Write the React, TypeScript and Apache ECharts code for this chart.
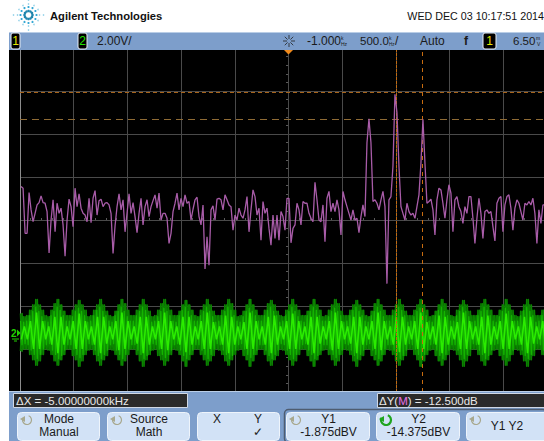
import React, { useEffect, useRef } from "react";
import * as echarts from "echarts";

const FONT = "'Liberation Sans', Arial, sans-serif";

// Math trace, dB relative to the top of the screen, sampled along the sweep
const traceDb = [
-64.4,-65.2,-86.2,-86.2,-67.2,-75.3,-80.8,-76.9,-73,-71.9,-68.8,-71.9,-72.2,-76.1,-95.3,-80,-70.6,-85.5,-72.2,-76.9,
-74.5,-82.3,-96.8,-80,-70.3,-73.8,-83.1,-65.2,-73.8,-67.8,-74.5,-76.9,-77.7,-80.8,-69.9,-81.2,-69.9,-66.3,-77.7,-71,
-70.3,-73.8,-72.2,-71.9,-73,-76.9,-95.6,-82.8,-73.8,-67.8,-75.3,-70.6,-85.5,-76.9,-67.8,-76.9,-71.9,-78.4,-85.9,-76.9,
-69.9,-82.3,-73.8,-70.6,-78.4,-73.8,-71,-68.3,-74.5,-67.5,-80,-76.9,-76.9,-79.2,-90.9,-86.2,-76.1,-72.2,-67.5,-75.3,
-69.9,-73.8,-68.3,-72.2,-71.4,-80,-75,-70.6,-69.4,-78.4,-82.3,-73,-102.8,-87.8,-101,-75.3,-73.4,-80,-70.3,-69.9,
-70.6,-75.3,-68.3,-70.6,-73,-73.8,-84.7,-77.7,-80,-74.5,-77.7,-79.2,-75.3,-69.1,-85.5,-75.3,-66,-69.1,-77.7,-74.5,
-89.4,-71.4,-76.9,-74.5,-83.9,-91.7,-77.7,-88.6,-77.7,-89.4,-76.1,-78.4,-84.7,-69.9,-69.9,-90.6,-83.9,-82.3,-72.2,-75.3,
-82.3,-71.4,-72.2,-72.2,-76.9,-79.2,-80.8,-62.5,-70.6,-80,-80.8,-73,-90.1,-69.9,-66.7,-76.1,-72.2,-76.1,-70.6,-75.3,
-87,-66.7,-70.6,-73.8,-76.9,-80,-75.3,-80,-79.2,-85.9,-78.4,-73,-78.4,-44.1,-32.9,-44.1,-71.4,-70.6,-72.2,-75.3,
-70.6,-66.7,-73.8,-109.6,-70.6,-69.1,-55,-21.5,-30,-55,-73.8,-76.9,-80,-72.2,-76.1,-77.7,-76.9,-79.2,-73.8,-68.3,
-53.5,-33.2,-53.5,-72.2,-71.4,-70.3,-75.3,-87,-70.6,-65.2,-66,-72.2,-79.2,-70.6,-63.6,-67.5,-85.5,-70.6,-69.1,-73.8,
-76.1,-81.6,-73.8,-76.9,-69.1,-69.1,-79.2,-90.9,-79.2,-69.9,-76.9,-88.6,-76.1,-75.3,-76.9,-76.1,-83.1,-89.7,-72.2,-69.9,
-69.1,-85.5,-73,-69.1,-68.3,-74.5,-84.7,-74.5,-70.6,-72.2,-76.1,-80,-72.2,-73,-71.4,-73,-69.9,-76.9,-90.9,-75.3,
-81.6,-73,-73,
];

// Channel 2 envelope, volts above and below its ground
const greenUpper = [
0.9,0.75,
0.8,1.05,1.3,1.55,1.3,1.05,0.8, 0.75,1.05,1.35,1.55,1.3,1.0,0.8, 0.8,1.05,1.3,1.5,1.3,1.05,0.75, 0.8,1.05,1.3,1.55,1.3,1.0,0.8,
0.75,1.0,1.3,1.55,1.35,1.05,0.8, 0.8,1.05,1.3,1.55,1.3,1.0,0.75, 0.8,1.05,1.35,1.55,1.3,1.05,0.8, 0.8,1.0,1.3,1.5,1.3,1.05,0.8,
0.75,1.05,1.3,1.55,1.3,1.0,0.8, 0.8,1.05,1.3,1.55,1.35,1.05,0.75, 0.8,1.0,1.3,1.55,1.3,1.05,0.8, 0.8,1.05,1.35,1.5,1.3,1.0,0.8,
0.75,1.05,1.3,1.55,1.3,1.05,0.8, 0.8,1.0,1.3,1.55,1.3,1.05,0.75, 0.8,1.05,1.3,1.55,1.35,1.0,0.8, 0.8,1.05,1.3,1.5,1.3,1.05,0.8,
0.75,1.0,1.35,1.55,1.3,1.05,0.8, 0.8,1.05,1.3,1.55,1.3,1.0,0.8, 0.8,1.05,1.3,1.55,1.3,1.05,0.75, 0.8,1.0,1.3,1.55,1.35,1.05,0.8,
0.75,1.05,1.3,1.5,1.3,1.0,0.8, 0.8,1.05,1.35,1.55,1.3,1.05,0.8, 0.8,1.05,1.3,1.55,1.3,1.05,0.8, 0.75,1.0,1.3,1.55,1.3,1.05,0.8,
0.8,1.05,1.3,1.55,1.3,1.0,0.75,
];
const greenLower = [
0.85,0.75,
0.75,1.0,1.25,1.5,1.3,1.0,0.75, 0.8,1.0,1.3,1.5,1.25,1.0,0.75, 0.75,1.05,1.25,1.55,1.3,1.0,0.8, 0.75,1.0,1.3,1.5,1.25,1.05,0.75,
0.8,1.0,1.25,1.5,1.3,1.0,0.75, 0.75,1.0,1.3,1.55,1.25,1.0,0.8, 0.75,1.05,1.25,1.5,1.3,1.0,0.75, 0.8,1.0,1.3,1.55,1.25,1.0,0.75,
0.75,1.0,1.25,1.5,1.3,1.05,0.75, 0.8,1.0,1.3,1.5,1.25,1.0,0.8, 0.75,1.05,1.25,1.55,1.3,1.0,0.75, 0.75,1.0,1.3,1.5,1.25,1.05,0.75,
0.8,1.0,1.25,1.5,1.3,1.0,0.75, 0.75,1.05,1.3,1.55,1.25,1.0,0.8, 0.75,1.0,1.25,1.5,1.3,1.0,0.75, 0.8,1.0,1.3,1.55,1.25,1.05,0.75,
0.75,1.05,1.25,1.5,1.3,1.0,0.75, 0.8,1.0,1.3,1.5,1.25,1.05,0.75, 0.75,1.0,1.25,1.55,1.3,1.0,0.8, 0.75,1.05,1.3,1.5,1.25,1.0,0.75,
0.8,1.0,1.25,1.55,1.3,1.05,0.75, 0.75,1.0,1.3,1.5,1.25,1.0,0.8, 0.75,1.05,1.25,1.5,1.3,1.0,0.75, 0.8,1.0,1.3,1.55,1.25,1.05,0.75,
0.75,1.0,1.25,1.5,1.3,1.0,0.8,
];
// Brighter interior strands of channel 2
const greenMid = [
0.55,0.5,
0.55,0.8,1.0,1.2,1.0,0.75,0.55, 0.5,0.8,1.0,1.2,1.05,0.8,0.55, 0.55,0.75,1.0,1.15,1.0,0.8,0.5, 0.55,0.8,1.05,1.2,1.0,0.8,0.55,
0.5,0.8,1.0,1.2,1.0,0.75,0.55, 0.55,0.8,1.0,1.2,1.05,0.8,0.5, 0.55,0.75,1.0,1.15,1.0,0.8,0.55, 0.5,0.8,1.05,1.2,1.0,0.8,0.55,
0.55,0.8,1.0,1.2,1.0,0.75,0.5, 0.55,0.8,1.0,1.2,1.05,0.8,0.55, 0.5,0.75,1.0,1.15,1.0,0.8,0.55, 0.55,0.8,1.05,1.2,1.0,0.8,0.5,
0.55,0.8,1.0,1.2,1.0,0.75,0.55, 0.5,0.8,1.0,1.2,1.05,0.8,0.55, 0.55,0.75,1.0,1.15,1.0,0.8,0.5, 0.55,0.8,1.05,1.2,1.0,0.8,0.55,
0.5,0.8,1.0,1.2,1.0,0.75,0.55, 0.55,0.8,1.0,1.2,1.05,0.8,0.5, 0.55,0.75,1.0,1.15,1.0,0.8,0.55, 0.5,0.8,1.05,1.2,1.0,0.8,0.55,
0.55,0.8,1.0,1.2,1.0,0.75,0.5, 0.55,0.8,1.0,1.2,1.05,0.8,0.55, 0.5,0.75,1.0,1.15,1.0,0.8,0.55, 0.55,0.8,1.05,1.2,1.0,0.8,0.5,
0.55,0.8,1.0,1.2,1.0,0.75,0.55,
];
const greenCore = [
-0.3,0.3,
-0.3,0.55,-0.75,0.95,-0.75,0.55,-0.3, 0.3,-0.55,0.75,-0.95,0.75,-0.55,0.3, -0.3,0.55,-0.75,0.9,-0.75,0.55,-0.3, 0.3,-0.55,0.75,-0.95,0.75,-0.5,0.3,
-0.3,0.55,-0.8,0.95,-0.75,0.55,-0.3, 0.3,-0.5,0.75,-0.95,0.75,-0.55,0.3, -0.3,0.55,-0.75,0.95,-0.8,0.55,-0.3, 0.3,-0.55,0.75,-0.9,0.75,-0.55,0.3,
-0.3,0.55,-0.75,0.95,-0.75,0.5,-0.3, 0.3,-0.55,0.8,-0.95,0.75,-0.55,0.3, -0.3,0.5,-0.75,0.95,-0.75,0.55,-0.3, 0.3,-0.55,0.75,-0.95,0.8,-0.55,0.3,
-0.3,0.55,-0.75,0.9,-0.75,0.55,-0.3, 0.3,-0.55,0.75,-0.95,0.75,-0.5,0.3, -0.3,0.55,-0.8,0.95,-0.75,0.55,-0.3, 0.3,-0.5,0.75,-0.95,0.75,-0.55,0.3,
-0.3,0.55,-0.75,0.95,-0.8,0.55,-0.3, 0.3,-0.55,0.75,-0.9,0.75,-0.55,0.3, -0.3,0.55,-0.75,0.95,-0.75,0.5,-0.3, 0.3,-0.55,0.8,-0.95,0.75,-0.55,0.3,
-0.3,0.5,-0.75,0.95,-0.75,0.55,-0.3, 0.3,-0.55,0.75,-0.95,0.8,-0.55,0.3, -0.3,0.55,-0.75,0.9,-0.75,0.55,-0.3, 0.3,-0.55,0.75,-0.95,0.75,-0.5,0.3,
-0.3,0.55,-0.8,0.95,-0.75,0.55,-0.3,
];

const traceStart = 10;
const traceStep = 18.62;
const greenStart = 5;
const greenStep = 28.4;

const cursorY = [-20.5, -33];
const cursorX = [3500, 3743];

const buttons = [
  { x: 17, w: 82, lines: ["Mode", "Manual"], knob: true },
  { x: 107, w: 82, lines: ["Source", "Math"], knob: true },
  { x: 286, w: 83, lines: ["Y1", "-1.875dBV"], knob: true },
  { x: 376, w: 83, lines: ["Y2", "-14.375dBV"], knob: true, active: true },
  { x: 466, w: 90, lines: ["Y1 Y2"], knob: true },
];

function label(x: number, y: number, text: string, o: any = {}) {
  return {
    type: "text",
    x,
    y,
    z: 30,
    silent: true,
    style: {
      text,
      fill: o.fill || "#1a1a1a",
      font: `${o.weight || "normal"} ${o.size || 12}px ${FONT}`,
      textAlign: o.align || "left",
      textVerticalAlign: "middle",
      ...(o.rich ? { rich: o.rich } : {}),
    },
  };
}

function buildGraphic() {
  const els: any[] = [];
  const rect = (x: number, y: number, w: number, h: number, fill: string, z = 20, extra: any = {}) =>
    els.push({ type: "rect", silent: true, z, shape: { x, y, width: w, height: h, r: extra.r || 0 }, style: { fill, stroke: extra.stroke, lineWidth: extra.lineWidth || 0 } });

  // screen
  rect(9, 50, 535, 342, "#000000", -10);
  // white header, panels
  rect(0, 0, 544, 32, "#ffffff");
  rect(0, 32, 9, 409, "#ffffff");
  rect(9, 32, 535, 18, "#7d9ecb");
  rect(9, 32, 535, 1, "#b9cde6", 21);
  rect(9, 391, 535, 50, "#7d9ecb");
  rect(9, 391, 535, 1, "#b9cde6", 21);

  // logo
  for (let a = 0; a < 12; a++) {
    const ang = (a * Math.PI) / 6;
    [4, 8, 11, 15].forEach((r, k) => {
      if (k === 3 && a % 3 !== 0) return;
      els.push({
        type: "circle",
        silent: true,
        z: 25,
        shape: { cx: 28.5 + r * Math.cos(ang), cy: 15 + r * Math.sin(ang), r: k === 0 ? 1.3 : k === 1 ? 1.1 : 0.8 },
        style: { fill: k === 0 ? "#1f86ad" : k === 1 ? "#35a8d4" : "#9ad4ea" },
      });
    });
  }
  els.push(label(50, 15.5, "Agilent Technologies", { weight: "bold", size: 11.2, fill: "#111" }));
  els.push(label(544, 15.5, "WED DEC 03 10:17:51 2014", { align: "right", size: 10.7, fill: "#111" }));

  // channel boxes
  const chip = (x: number, text: string, color: string) => {
    rect(x, 33, 9, 16, "#000000", 25, { r: 2, stroke: "#e8eef6", lineWidth: 1 });
    els.push(label(x + 4.5, 41, text, { fill: color, align: "center", size: 12 }));
  };
  chip(11, "1", "#e8e800");
  chip(78, "2", "#22e000");
  rect(483, 33, 13, 16, "#000000", 25, { r: 2, stroke: "#e8eef6", lineWidth: 1 });
  els.push(label(489.5, 41, "1", { fill: "#e8e800", align: "center", size: 12 }));

  els.push(label(97, 41, "2.00V/", { size: 12 }));
  // trigger-delay star
  for (let a = 0; a < 8; a++) {
    const ang = (a * Math.PI) / 4;
    els.push({
      type: "line",
      silent: true,
      z: 25,
      shape: { x1: 289 + 2 * Math.cos(ang), y1: 41 + 2 * Math.sin(ang), x2: 289 + 6 * Math.cos(ang), y2: 41 + 6 * Math.sin(ang) },
      style: { stroke: "#222", lineWidth: 0.8 },
    });
  }
  els.push(label(307, 41, "-1.000", { size: 12 }));
  els.push(label(341, 37.5, "k", { size: 5 }));
  els.push(label(341, 44, "Hz", { size: 5 }));
  els.push(label(360, 41, "500.0", { size: 11.5 }));
  els.push(label(389, 37.5, "k", { size: 5 }));
  els.push(label(389, 44, "Hz", { size: 4.5 }));
  els.push(label(395, 41, "/", { size: 12 }));
  els.push(label(420, 41, "Auto", { size: 12 }));
  els.push(label(464, 41, "f", { size: 12, weight: "bold" }));
  els.push(label(513, 41, "6.50", { size: 11.5 }));
  els.push(label(536, 37.5, "m", { size: 5 }));
  els.push(label(537, 44, "V", { size: 5 }));

  // trigger marker
  els.push({ type: "polygon", silent: true, z: 25, shape: { points: [[284, 50], [293, 50], [288.5, 54.5]] }, style: { fill: "#f08a1c" } });
  // channel 2 ground marker
  els.push(label(11, 333, "2", { fill: "#22d000", size: 10, weight: "bold" }));
  els.push({ type: "polygon", silent: true, z: 25, shape: { points: [[17, 329.5], [20.5, 333], [17, 336.5]] }, style: { fill: "#22d000" } });
  els.push({ type: "line", silent: true, z: 25, shape: { x1: 12, y1: 339, x2: 19, y2: 339 }, style: { stroke: "#22d000", lineWidth: 1 } });
  els.push({ type: "line", silent: true, z: 25, shape: { x1: 14, y1: 341, x2: 17, y2: 341 }, style: { stroke: "#22d000", lineWidth: 1 } });

  // readouts
  rect(13.5, 393.5, 174, 14, "#2a2a2a", 24, { stroke: "#d0d8e4", lineWidth: 1 });
  els.push(label(16, 400.5, "ΔX = -5.00000000kHz", { fill: "#e8e8e8", size: 11.5 }));
  rect(377.5, 393.5, 170, 14, "#2a2a2a", 24, { stroke: "#d0d8e4", lineWidth: 1 });
  els.push(
    label(379, 400.5, "ΔY({m|M}) = -12.500dB", {
      fill: "#e8e8e8",
      size: 11.5,
      rich: { m: { fill: "#e870e8", font: `11.5px ${FONT}` } },
    })
  );

  // softkeys
  const cellOutline = { r: 4, stroke: "#4e5c70", lineWidth: 1.5 };
  rect(284.5, 409.5, 262, 33, "#7d9ecb", 22, cellOutline);
  const key = (x: number, w: number) => rect(x + 0.5, 412.5, w, 28, "#d2e2f6", 23, { r: 4, stroke: "#eef4fb", lineWidth: 1 });
  const knob = (x: number, active?: boolean) => {
    const c = active ? "#1fa51f" : "#a8a88e";
    els.push({
      type: "arc",
      silent: true,
      z: 26,
      shape: { cx: x, cy: 420, r: active ? 5 : 4.5, startAngle: -1.2, endAngle: 3.6 },
      style: { stroke: c, lineWidth: active ? 2.2 : 1.2, fill: "none" },
    });
    els.push({ type: "polygon", silent: true, z: 26, shape: { points: [[x - 7, 419], [x - 2, 416], [x - 2, 422]] }, style: { fill: c } });
  };
  buttons.forEach((b) => {
    key(b.x, b.w);
    knob(b.x + 10, b.active);
    const cx = b.x === 466 ? 507 : b.x + b.w / 2 + 1;
    if (b.lines.length === 2) {
      els.push(label(cx, 419, b.lines[0], { align: "center", size: 12 }));
      els.push(label(cx, 432, b.lines[1], { align: "center", size: 12 }));
    } else {
      els.push(label(cx, 426, b.lines[0], { align: "center", size: 12 }));
    }
  });
  key(197, 82);
  els.push(label(217, 419, "X", { align: "center", size: 12 }));
  els.push(label(258, 419, "Y", { align: "center", size: 12 }));
  els.push(label(258, 432, "✓", { align: "center", size: 12, fill: "#222" }));
  return els;
}

// up[i] then -low[i], half a step apart; "flip" starts the pair from below
function zig(up: number[], low: number[], flip = false) {
  const pts: number[][] = [];
  up.forEach((v, i) => {
    pts.push([greenStart + i * greenStep, flip ? -low[i] : v]);
    pts.push([greenStart + (i + 0.5) * greenStep, flip ? v : -low[i]]);
  });
  return pts;
}

const lineBase = { type: "line", symbol: "none", silent: true, animation: false };

export default function App() {
  const ref = useRef<HTMLDivElement>(null);
  useEffect(() => {
    const chart = echarts.init(ref.current!, undefined, { renderer: "svg" });
    const gridColor = "#4a4a4a";
    const xMax = 4880;
    chart.setOption({
      animation: false,
      backgroundColor: "#ffffff",
      grid: { left: 20, top: 48, right: 0, height: 344 },
      graphic: { elements: buildGraphic() },
      xAxis: [
        {
          type: "value", min: 0, max: xMax, interval: 500,
          axisLine: { show: false }, axisTick: { show: false }, axisLabel: { show: false },
          splitLine: { show: true, lineStyle: { color: gridColor, width: 1 } },
        },
        {
          type: "value", min: 0, max: xMax, interval: 500, position: "top", offset: -172,
          axisLine: { show: false }, axisLabel: { show: false }, splitLine: { show: false },
          axisTick: { show: false },
          minorTick: { show: true, splitNumber: 5, length: 2, lineStyle: { color: "#5a5a5a" } },
        },
      ],
      yAxis: [
        {
          type: "value", min: -160, max: 0, interval: 20,
          axisLine: { show: true, onZero: false, lineStyle: { color: "#8c8c8c", width: 1 } },
          axisTick: { show: false }, axisLabel: { show: false },
          splitLine: { show: true, lineStyle: { color: gridColor, width: 1 } },
        },
        {
          type: "value", min: -160, max: 0, interval: 20, position: "left", offset: -268,
          axisLine: { show: false }, axisLabel: { show: false }, splitLine: { show: false },
          axisTick: { show: false },
          minorTick: { show: true, splitNumber: 5, length: 2, lineStyle: { color: "#5a5a5a" } },
        },
        { type: "value", min: -2.75, max: 13.25, show: false },
      ],
      series: [
        {
          ...lineBase, name: "Channel 2 outer", yAxisIndex: 2, z: 2,
          data: zig(greenUpper, greenLower),
          lineStyle: { color: "#0b8400", width: 1.6, join: "round" },
        },
        {
          ...lineBase, name: "Channel 2 outer fill", yAxisIndex: 2, z: 2,
          data: zig(greenUpper, greenLower, true),
          lineStyle: { color: "#0b8400", width: 1.6, join: "round" },
        },
        {
          ...lineBase, name: "Channel 2 mid", yAxisIndex: 2, z: 3,
          data: zig(greenMid, greenMid),
          lineStyle: { color: "#14b400", width: 1.3, join: "round" },
        },
        {
          ...lineBase, name: "Channel 2 core", yAxisIndex: 2, z: 4,
          data: greenCore.map((v, i) => [greenStart + (i + 0.25) * greenStep, v]),
          lineStyle: { color: "#2bec00", width: 1.6 },
        },
        {
          ...lineBase, name: "Math", yAxisIndex: 0, z: 5,
          data: traceDb.map((v, i) => [traceStart + i * traceStep, v]),
          lineStyle: { color: "#a85ca8", width: 1.3 },
          markLine: {
            silent: true, symbol: "none", animation: false, label: { show: false },
            data: [
              { yAxis: cursorY[0], lineStyle: { color: "#a8641a", type: [4, 3], width: 1 } },
              { yAxis: cursorY[1], lineStyle: { color: "#8f6b35", type: [7, 5], width: 1 } },
              { xAxis: cursorX[0], lineStyle: { color: "#c06a10", type: [3, 1], width: 1 } },
              { xAxis: cursorX[1], lineStyle: { color: "#c86c10", type: [4, 4], width: 1 } },
            ],
          },
        },
      ],
    });
    return () => chart.dispose();
  }, []);
  return <div ref={ref} style={{ position: "fixed", left: 0, top: 0, width: 544, height: 441 }} />;
}
